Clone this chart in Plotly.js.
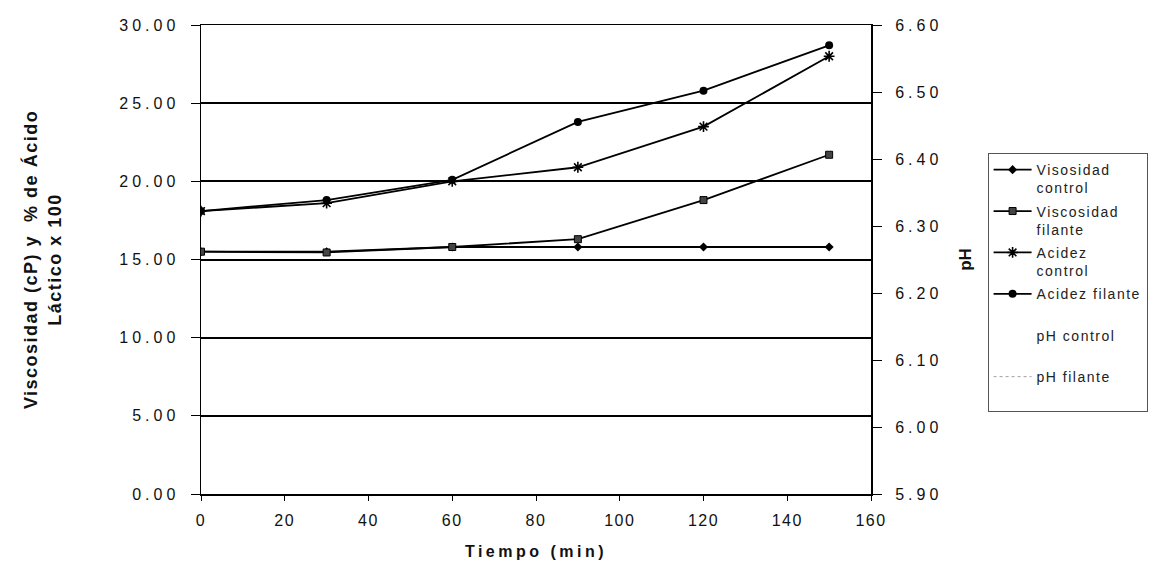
<!DOCTYPE html>
<html>
<head>
<meta charset="utf-8">
<script src="https://cdn.plot.ly/plotly-3.0.1.min.js"></script>
<style>
  html, body { margin: 0; padding: 0; background: #fff; }
  #chart { width: 1160px; height: 565px; }
  .xtick text { letter-spacing: 1.5px; }
  .ytick text { letter-spacing: 4px; }
  .y2tick text { letter-spacing: 4px; }
  .xtitle { letter-spacing: 3.5px; }
  .ytitle { letter-spacing: 1.5px; }
  .legendtext { letter-spacing: 1.5px; }
</style>
</head>
<body>
<div id="chart"></div>
<script>
// ---- data ----
const tiempo = [0, 30, 60, 90, 120, 150];
const viscosidadControl = [15.5, 15.5, 15.8, 15.8, 15.8, 15.8];
const viscosidadFilante = [15.5, 15.45, 15.8, 16.3, 18.8, 21.7];
const acidezControl = [18.1, 18.6, 20.0, 20.9, 23.5, 28.0];
const acidezFilante = [18.1, 18.8, 20.1, 23.8, 25.8, 28.7];
// pH series are listed in the legend but their lines are not legible in the scan
const phControl = [null, null, null, null, null, null];
const phFilante = [null, null, null, null, null, null];

const seriesNames = ["Visosidad<br>control", "Viscosidad<br>filante", "Acidez<br>control",
                     "Acidez filante<br> ", "pH control<br> ", "pH filante<br> "];
const xTitle = "Tiempo (min)";
const yTitle = "Viscosidad (cP) y  % de Ácido<br>Láctico x 100";
const y2Title = "pH";

const font = "Liberation Sans, Arial, sans-serif";
const lineW = 1.8;

const traces = [
  { x: tiempo, y: viscosidadControl, name: seriesNames[0], legendgroup: "g1", type: "scatter", mode: "lines+markers",
    line: { color: "#000", width: lineW },
    marker: { symbol: "diamond", size: 7, color: "#000" } },
  { x: tiempo, y: viscosidadFilante, name: seriesNames[1], legendgroup: "g2", type: "scatter", mode: "lines+markers",
    line: { color: "#000", width: lineW },
    marker: { symbol: "square", size: 7, color: "#444", line: { color: "#000", width: 1 } } },
  { x: tiempo, y: acidezControl, name: seriesNames[2], legendgroup: "g3", type: "scatter", mode: "lines+markers",
    line: { color: "#000", width: lineW },
    marker: { symbol: "asterisk-open", size: 9, color: "#000", line: { color: "#000", width: 1.6 } } },
  { x: tiempo, y: acidezFilante, name: seriesNames[3], legendgroup: "g4", type: "scatter", mode: "lines+markers",
    line: { color: "#000", width: lineW },
    marker: { symbol: "circle", size: 8, color: "#000" } },
  { x: tiempo, y: phControl, name: seriesNames[4], legendgroup: "g5", type: "scatter", mode: "lines", yaxis: "y2",
    line: { color: "#ffffff", width: 1 } },
  { x: tiempo, y: phFilante, name: seriesNames[5], legendgroup: "g6", type: "scatter", mode: "lines", yaxis: "y2",
    line: { color: "#a0a0a0", width: 1, dash: "dot" } }
];

const layout = {
  width: 1160, height: 565,
  margin: { l: 201, r: 275, t: 25, b: 71, pad: 0 },
  paper_bgcolor: "#fff", plot_bgcolor: "#fff",
  font: { family: font, color: "#111" },
  showlegend: true,
  legend: {
    x: 1.174, xanchor: "left", y: 0.727, yanchor: "top",
    bgcolor: "#fff", bordercolor: "#555", borderwidth: 1,
    font: { family: font, size: 14, color: "#222" },
    valign: "top", itemwidth: 38, tracegroupgap: 2
  },
  xaxis: {
    range: [0, 160], dtick: 20, tick0: 0,
    showline: true, linecolor: "#000", linewidth: 1.5, mirror: true,
    ticks: "outside", ticklen: 5, tickcolor: "#000",
    showgrid: false, zeroline: false,
    tickfont: { family: font, size: 16, color: "#111" },
    ticklabelstandoff: 6,
    title: { text: xTitle, font: { family: font, size: 16, color: "#111", weight: "bold" }, standoff: 18 }
  },
  yaxis: {
    range: [0, 30], dtick: 5, tick0: 0, tickformat: ".2f",
    showline: true, linecolor: "#000", linewidth: 1.5,
    ticks: "outside", ticklen: 9, tickcolor: "#000",
    showgrid: true, gridcolor: "#000", gridwidth: 2, zeroline: false,
    tickfont: { family: font, size: 16, color: "#111" },
    ticklabelstandoff: 8,
    title: { text: yTitle, font: { family: font, size: 18, color: "#111", weight: "bold" }, standoff: 53 }
  },
  yaxis2: {
    range: [5.9, 6.6], dtick: 0.1, tick0: 5.9, tickformat: ".2f",
    overlaying: "y", side: "right",
    showline: true, linecolor: "#000", linewidth: 2,
    ticks: "outside", ticklen: 9, tickcolor: "#000",
    showgrid: false, zeroline: false,
    tickfont: { family: font, size: 16, color: "#111" },
    ticklabelstandoff: 10,
    title: { text: y2Title, font: { family: font, size: 17, color: "#111", weight: "bold" }, standoff: 18 }
  },
  yaxis3: {
    range: [5.9, 6.6], dtick: 0.1, tick0: 5.9,
    overlaying: "y", side: "right",
    showline: false, ticks: "inside", ticklen: 8, tickcolor: "#000",
    showticklabels: false, showgrid: false, zeroline: false
  }
};

Plotly.newPlot("chart", traces, layout, { displayModeBar: false, staticPlot: true });
</script>
</body>
</html>
